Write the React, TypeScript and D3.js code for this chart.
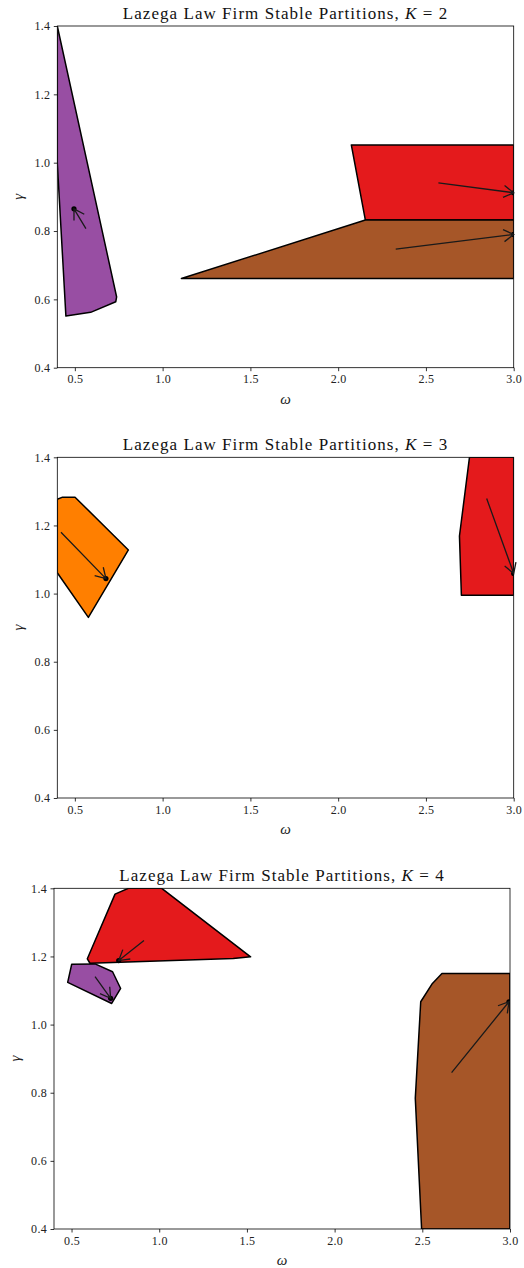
//@ts-nocheck
import React, { useRef, useEffect } from 'react'
import * as d3 from 'd3'

const xTicks = [0.5, 1.0, 1.5, 2.0, 2.5, 3.0]
const yTicks = [0.4, 0.6, 0.8, 1.0, 1.2, 1.4]

// K = 2
const k2Purple = [[0.4, 1.4], [0.738, 0.607], [0.733, 0.593], [0.59, 0.562], [0.449, 0.551], [0.4, 1.0]]
const k2Red = [[2.075, 1.052], [3.0, 1.052], [3.0, 0.832], [2.155, 0.832]]
const k2Brown = [[1.107, 0.661], [2.155, 0.832], [3.0, 0.832], [3.0, 0.661]]
const k2Arrows = [
  { from: [0.563, 0.807], to: [0.495, 0.865] },
  { from: [2.571, 0.941], to: [3.0, 0.912] },
  { from: [2.328, 0.747], to: [3.0, 0.79] }
]

// K = 3
const k3Orange = [[0.4, 1.277], [0.43, 1.283], [0.501, 1.283], [0.805, 1.128], [0.577, 0.93], [0.4, 1.061]]
const k3Red = [[2.748, 1.4], [3.0, 1.4], [3.0, 0.995], [2.702, 0.995], [2.691, 1.169]]
const k3Arrows = [
  { from: [0.421, 1.18], to: [0.677, 1.044] },
  { from: [2.846, 1.279], to: [3.0, 1.059] }
]

// K = 4
const k4Red = [[0.59, 1.193], [0.748, 1.383], [0.824, 1.4], [1.014, 1.4], [1.521, 1.199], [1.422, 1.194], [0.605, 1.18]]
const k4Purple = [[0.501, 1.177], [0.634, 1.178], [0.734, 1.155], [0.78, 1.106], [0.729, 1.062], [0.478, 1.124]]
const k4Brown = [[2.496, 0.4], [2.46, 0.784], [2.491, 1.067], [2.555, 1.119], [2.612, 1.15], [3.0, 1.15], [3.0, 0.4]]
const k4Arrows = [
  { from: [0.913, 1.247], to: [0.769, 1.188] },
  { from: [0.634, 1.141], to: [0.723, 1.077] },
  { from: [2.667, 0.859], to: [2.994, 1.067] }
]

const panels = [
  {
    k: 2, left: 57.3, right: 513.7, top: 26, bottom: 367.7,
    regions: [{ pts: k2Purple, color: '#984ea3' }, { pts: k2Red, color: '#e41a1c' }, { pts: k2Brown, color: '#a65628' }],
    arrows: k2Arrows
  },
  {
    k: 3, left: 57.3, right: 513.7, top: 457.3, bottom: 798,
    regions: [{ pts: k3Orange, color: '#ff7f00' }, { pts: k3Red, color: '#e41a1c' }],
    arrows: k3Arrows
  },
  {
    k: 4, left: 54, right: 510, top: 888.3, bottom: 1229,
    regions: [{ pts: k4Red, color: '#e41a1c' }, { pts: k4Purple, color: '#984ea3' }, { pts: k4Brown, color: '#a65628' }],
    arrows: k4Arrows
  }
]

const FONT = '"Liberation Serif", "DejaVu Serif", serif'

const App = () => {
  const node = useRef(null)

  useEffect(() => {
    const svg = d3.select(node.current)
    svg.selectAll('*').remove()
    svg.attr('width', 524).attr('height', 1268).attr('font-family', FONT)
    svg.append('rect').attr('width', 524).attr('height', 1268).attr('fill', '#fff')

    panels.forEach((p, i) => {
      const x = d3.scaleLinear().domain([0.4, 3.0]).range([p.left, p.right])
      const y = d3.scaleLinear().domain([0.4, 1.4]).range([p.bottom, p.top])
      const g = svg.append('g')
      const clipId = `clip${i}`
      g.append('clipPath')
        .attr('id', clipId)
        .append('rect')
        .attr('x', p.left)
        .attr('y', p.top)
        .attr('width', p.right - p.left)
        .attr('height', p.bottom - p.top)

      const line = d3.line().x((d) => x(d[0])).y((d) => y(d[1]))
      const clipped = g.append('g').attr('clip-path', `url(#${clipId})`)
      p.regions.forEach((r) => {
        clipped
          .append('path')
          .attr('d', line(r.pts) + 'Z')
          .attr('fill', r.color)
          .attr('stroke', '#000')
          .attr('stroke-width', 1.5)
          .attr('stroke-linejoin', 'round')
      })
      p.arrows.forEach((a) => {
        clipped.append('circle').attr('cx', x(a.to[0])).attr('cy', y(a.to[1])).attr('r', 2.6).attr('fill', '#000')
      })

      // frame
      g.append('rect')
        .attr('x', p.left)
        .attr('y', p.top)
        .attr('width', p.right - p.left)
        .attr('height', p.bottom - p.top)
        .attr('fill', 'none')
        .attr('stroke', '#000')
        .attr('stroke-width', 0.8)

      // arrows (not clipped)
      p.arrows.forEach((a) => {
        const x0 = x(a.from[0]), y0 = y(a.from[1])
        const x1 = x(a.to[0]), y1 = y(a.to[1])
        const ang = Math.atan2(y1 - y0, x1 - x0)
        const hl = 10, hw = 6
        const bx = x1 - hl * Math.cos(ang), by = y1 - hl * Math.sin(ang)
        const px = -Math.sin(ang) * hw, py = Math.cos(ang) * hw
        const path = d3.path()
        path.moveTo(x0, y0)
        path.lineTo(x1, y1)
        path.moveTo(bx + px, by + py)
        path.lineTo(x1, y1)
        path.lineTo(bx - px, by - py)
        g.append('path')
          .attr('d', path.toString())
          .attr('fill', 'none')
          .attr('stroke', '#1a1a1a')
          .attr('stroke-width', 1.3)
          .attr('stroke-linejoin', 'miter')
      })

      const xAxis = g
        .append('g')
        .attr('transform', `translate(0,${p.bottom})`)
        .call(d3.axisBottom(x).tickValues(xTicks).tickFormat(d3.format('.1f')).tickSize(3.5).tickPadding(3.5))
      const yAxis = g
        .append('g')
        .attr('transform', `translate(${p.left},0)`)
        .call(d3.axisLeft(y).tickValues(yTicks).tickFormat(d3.format('.1f')).tickSize(3.5).tickPadding(3.5))
      ;[xAxis, yAxis].forEach((ax) => {
        ax.attr('font-family', FONT).attr('font-size', 12)
        ax.select('.domain').remove()
        ax.selectAll('line').attr('stroke', '#000').attr('stroke-width', 0.8)
        ax.selectAll('text')
          .style('font-family', FONT)
          .style('font-size', '12px')
          .attr('letter-spacing', 0.3)
          .attr('fill', '#222')
      })

      const cx = (p.left + p.right) / 2
      const title = g
        .append('text')
        .attr('x', cx)
        .attr('y', p.top - 7)
        .attr('text-anchor', 'middle')
        .attr('font-size', 17)
        .attr('letter-spacing', 1.05)
        .attr('fill', '#111')
      title.append('tspan').text('Lazega Law Firm Stable Partitions, ')
      title.append('tspan').attr('font-style', 'italic').text('K')
      title.append('tspan').text(` = ${p.k}`)

      g.append('text')
        .attr('x', cx)
        .attr('y', p.bottom + 36)
        .attr('text-anchor', 'middle')
        .attr('font-size', 15)
        .attr('font-style', 'italic')
        .attr('fill', '#222')
        .text('ω')

      const ly = (p.top + p.bottom) / 2
      g.append('text')
        .attr('transform', `translate(${p.left - 34},${ly}) rotate(-90)`)
        .attr('text-anchor', 'middle')
        .attr('font-size', 15)
        .attr('font-style', 'italic')
        .attr('fill', '#222')
        .text('γ')
    })
  }, [])

  return <svg ref={node} style={{ position: 'absolute', left: 0, top: 0 }}></svg>
}

export default App
